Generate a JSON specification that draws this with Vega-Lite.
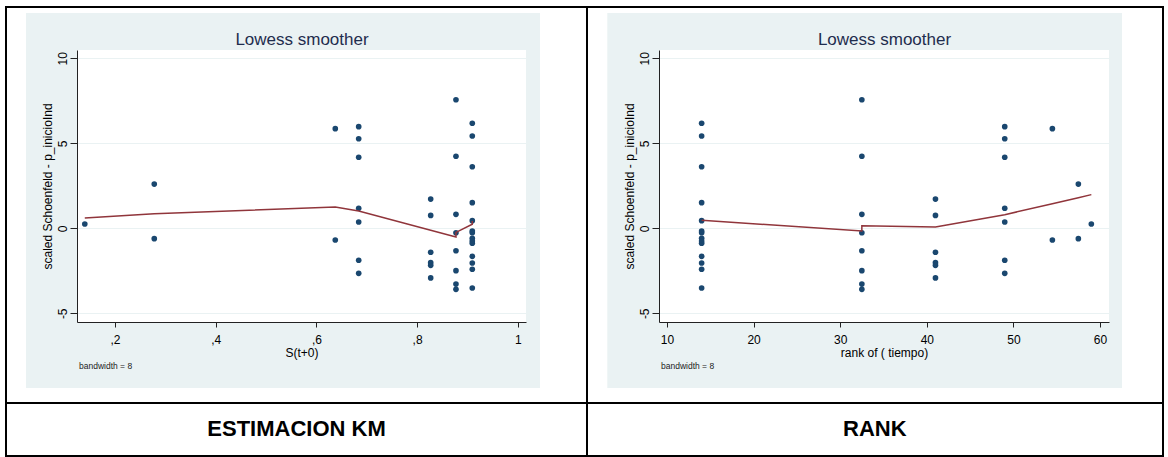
{
  "$schema": "https://vega.github.io/schema/vega-lite/v6.json",
  "padding": {"left": 5, "top": 5, "right": 0, "bottom": 0},
  "background": "white",
  "config": {"font": "Liberation Sans", "view": {"stroke": null}},
  "datasets": {
    "obs": [
      {"km": 0.14, "rank": 59, "resid": 0.25},
      {"km": 0.278, "rank": 57.5, "resid": 2.6},
      {"km": 0.278, "rank": 57.5, "resid": -0.61},
      {"km": 0.6375, "rank": 54.5, "resid": 5.86},
      {"km": 0.6375, "rank": 54.5, "resid": -0.69},
      {"km": 0.684, "rank": 49, "resid": 5.98},
      {"km": 0.684, "rank": 49, "resid": 5.27},
      {"km": 0.684, "rank": 49, "resid": 4.18},
      {"km": 0.684, "rank": 49, "resid": 1.18},
      {"km": 0.684, "rank": 49, "resid": 0.37},
      {"km": 0.684, "rank": 49, "resid": -1.88},
      {"km": 0.684, "rank": 49, "resid": -2.65},
      {"km": 0.827, "rank": 41, "resid": 1.72},
      {"km": 0.827, "rank": 41, "resid": 0.76},
      {"km": 0.827, "rank": 41, "resid": -1.41},
      {"km": 0.827, "rank": 41, "resid": -2.02},
      {"km": 0.827, "rank": 41, "resid": -2.18},
      {"km": 0.827, "rank": 41, "resid": -2.92},
      {"km": 0.8772, "rank": 32.5, "resid": 7.56},
      {"km": 0.8772, "rank": 32.5, "resid": 4.24},
      {"km": 0.8772, "rank": 32.5, "resid": 0.82},
      {"km": 0.8772, "rank": 32.5, "resid": -0.26},
      {"km": 0.8772, "rank": 32.5, "resid": -1.32},
      {"km": 0.8772, "rank": 32.5, "resid": -2.49},
      {"km": 0.8772, "rank": 32.5, "resid": -3.28},
      {"km": 0.8772, "rank": 32.5, "resid": -3.59},
      {"km": 0.9096, "rank": 14, "resid": 6.18},
      {"km": 0.9096, "rank": 14, "resid": 5.43},
      {"km": 0.9096, "rank": 14, "resid": 3.62},
      {"km": 0.9096, "rank": 14, "resid": 1.51},
      {"km": 0.9096, "rank": 14, "resid": 0.45},
      {"km": 0.9096, "rank": 14, "resid": -0.16},
      {"km": 0.9096, "rank": 14, "resid": -0.26},
      {"km": 0.9096, "rank": 14, "resid": -0.59},
      {"km": 0.9096, "rank": 14, "resid": -0.75},
      {"km": 0.9096, "rank": 14, "resid": -0.88},
      {"km": 0.9096, "rank": 14, "resid": -1.65},
      {"km": 0.9096, "rank": 14, "resid": -2.04},
      {"km": 0.9096, "rank": 14, "resid": -2.41},
      {"km": 0.9096, "rank": 14, "resid": -3.51}
    ],
    "lowess_km": [
      {"seq": 1, "km": 0.14, "fit": 0.61},
      {"seq": 2, "km": 0.278, "fit": 0.86},
      {"seq": 3, "km": 0.6375, "fit": 1.25},
      {"seq": 4, "km": 0.684, "fit": 1.02},
      {"seq": 5, "km": 0.827, "fit": -0.12},
      {"seq": 6, "km": 0.8772, "fit": -0.51},
      {"seq": 7, "km": 0.8772, "fit": -0.24},
      {"seq": 8, "km": 0.9096, "fit": 0.24},
      {"seq": 9, "km": 0.9096, "fit": 0.43}
    ],
    "lowess_rank": [
      {"seq": 1, "rank": 14, "fit": 0.47},
      {"seq": 2, "rank": 32.5, "fit": -0.16},
      {"seq": 3, "rank": 32.5, "fit": 0.15},
      {"seq": 4, "rank": 41, "fit": 0.08},
      {"seq": 5, "rank": 49, "fit": 0.8},
      {"seq": 6, "rank": 54.5, "fit": 1.45},
      {"seq": 7, "rank": 57.5, "fit": 1.8},
      {"seq": 8, "rank": 59, "fit": 1.98}
    ]
  },
  "spacing": -2,
  "hconcat": [
    {
      "width": 449,
      "height": 272,
      "view": {"stroke": null, "fill": "white"},
      "layer": [
        {
          "data": {"values": [{}]},
          "mark": {"type": "rect", "filled": false, "stroke": "black", "strokeWidth": 2},
          "encoding": {
            "x": {"datum": -0.01648, "type": "quantitative", "scale": {"domain": [0.12453, 1.01629], "nice": false, "zero": false}, "axis": null},
            "x2": {"datum": 1.13744},
            "y": {"datum": 13.018, "type": "quantitative", "scale": {"domain": [-5.512, 10.488], "nice": false, "zero": false}, "axis": null},
            "y2": {"datum": -13.394}
          }
        },
        {
          "data": {"values": [{}]},
          "mark": {"type": "rule", "color": "black", "strokeWidth": 2},
          "encoding": {
            "x": {"datum": -0.01648, "type": "quantitative", "scale": {"domain": [0.12453, 1.01629], "nice": false, "zero": false}, "axis": null},
            "x2": {"datum": 1.13744},
            "y": {"datum": -10.276, "type": "quantitative", "scale": {"domain": [-5.512, 10.488], "nice": false, "zero": false}, "axis": null}
          }
        },
        {
          "data": {"values": [{}]},
          "mark": {"type": "text", "text": "ESTIMACION KM", "fontSize": 22, "fontWeight": "bold", "color": "#000", "align": "center", "baseline": "middle"},
          "encoding": {
            "x": {"datum": 0.5605, "type": "quantitative", "scale": {"domain": [0.12453, 1.01629], "nice": false, "zero": false}, "axis": null},
            "y": {"datum": -11.835, "type": "quantitative", "scale": {"domain": [-5.512, 10.488], "nice": false, "zero": false}, "axis": null}
          }
        },
        {
          "data": {"values": [{}]},
          "mark": {"type": "rect", "fill": "#EAF2F3"},
          "encoding": {
            "x": {"datum": 0.02324, "type": "quantitative", "scale": {"domain": [0.12453, 1.01629], "nice": false, "zero": false},
              "axis": {"orient": "top", "title": "Lowess smoother", "labels": false, "ticks": false, "domain": false, "grid": false, "titleFontSize": 17, "titleFontWeight": "normal", "titleColor": "#1f2d4e", "titlePadding": 6, "titleBaseline": "alphabetic", "zindex": 1}},
            "x2": {"datum": 1.04409},
            "y": {"datum": 12.665, "type": "quantitative", "scale": {"domain": [-5.512, 10.488], "nice": false, "zero": false}, "axis": null},
            "y2": {"datum": 10.488}
          }
        },
        {
          "data": {"values": [{}]},
          "mark": {"type": "rect", "fill": "#EAF2F3"},
          "encoding": {
            "x": {"datum": 0.02324, "type": "quantitative", "scale": {"domain": [0.12453, 1.01629], "nice": false, "zero": false}, "axis": null},
            "x2": {"datum": 1.04409},
            "y": {"datum": -5.512, "type": "quantitative", "scale": {"domain": [-5.512, 10.488], "nice": false, "zero": false}, "axis": null},
            "y2": {"datum": -9.394}
          }
        },
        {
          "data": {"values": [{}]},
          "mark": {"type": "rect", "fill": "#EAF2F3"},
          "encoding": {
            "x": {"datum": 0.02324, "type": "quantitative", "scale": {"domain": [0.12453, 1.01629], "nice": false, "zero": false}, "axis": null},
            "x2": {"datum": 0.12453},
            "y": {"datum": -5.512, "type": "quantitative", "scale": {"domain": [-5.512, 10.488], "nice": false, "zero": false},
              "axis": {"orient": "right", "grid": true, "gridColor": "#EAF2F3", "gridWidth": 1, "values": [-5, 0, 5, 10], "labels": false, "ticks": false, "domain": false, "title": null, "zindex": 0}},
            "y2": {"datum": 10.488}
          }
        },
        {
          "data": {"values": [{}]},
          "mark": {"type": "rect", "fill": "#EAF2F3"},
          "encoding": {
            "x": {"datum": 1.01629, "type": "quantitative", "scale": {"domain": [0.12453, 1.01629], "nice": false, "zero": false}, "axis": null},
            "x2": {"datum": 1.04409},
            "y": {"datum": -5.512, "type": "quantitative", "scale": {"domain": [-5.512, 10.488], "nice": false, "zero": false}, "axis": null},
            "y2": {"datum": 10.488}
          }
        },
        {
          "data": {"name": "obs"},
          "mark": {"type": "circle", "size": 32, "color": "#1a476f", "opacity": 1},
          "encoding": {
            "x": {"field": "km", "type": "quantitative", "scale": {"domain": [0.12453, 1.01629], "nice": false, "zero": false},
              "axis": {"orient": "bottom", "title": "S(t+0)", "values": [0.2, 0.4, 0.6, 0.8, 1], "labelExpr": "replace(format(datum.value, '~g'), '0.', ',')", "grid": false, "tickSize": 5, "labelPadding": 7, "labelFontSize": 12, "labelColor": "#000", "labelFlush": false, "titleFontSize": 12, "titleFontWeight": "normal", "titleColor": "#000", "titlePadding": 2, "domainColor": "#222", "tickColor": "#222", "zindex": 1}},
            "y": {"field": "resid", "type": "quantitative", "scale": {"domain": [-5.512, 10.488], "nice": false, "zero": false},
              "axis": {"orient": "left", "title": "scaled Schoenfeld - p_inicioInd", "values": [-5, 0, 5, 10], "labelExpr": "replace(datum.label, '−', '-')", "grid": false, "tickSize": 7, "labelPadding": 1, "labelAngle": 270, "labelAlign": "center", "labelBaseline": "bottom", "labelFontSize": 12, "labelColor": "#000", "labelFlush": false, "titleFontSize": 12, "titleFontWeight": "normal", "titleColor": "#000", "titlePadding": 2, "domainColor": "#222", "tickColor": "#222", "zindex": 1}}
          }
        },
        {
          "data": {"name": "lowess_km"},
          "mark": {"type": "line", "color": "#90353b", "strokeWidth": 1.5},
          "encoding": {
            "x": {"field": "km", "type": "quantitative", "scale": {"domain": [0.12453, 1.01629], "nice": false, "zero": false}, "axis": null},
            "y": {"field": "fit", "type": "quantitative", "scale": {"domain": [-5.512, 10.488], "nice": false, "zero": false}, "axis": null},
            "order": {"field": "seq", "type": "quantitative"}
          }
        },
        {
          "data": {"values": [{}]},
          "mark": {"type": "text", "text": "bandwidth = 8", "align": "left", "baseline": "middle", "fontSize": 8.5, "color": "#222"},
          "encoding": {
            "x": {"datum": 0.1285, "type": "quantitative", "scale": {"domain": [0.12453, 1.01629], "nice": false, "zero": false}, "axis": null},
            "y": {"datum": -8.1, "type": "quantitative", "scale": {"domain": [-5.512, 10.488], "nice": false, "zero": false}, "axis": null}
          }
        }
      ]
    },
    {
      "width": 450,
      "height": 272,
      "view": {"stroke": null, "fill": "white"},
      "layer": [
        {
          "data": {"values": [{}]},
          "mark": {"type": "rect", "filled": false, "stroke": "black", "strokeWidth": 2},
          "encoding": {
            "x": {"datum": 0.762, "type": "quantitative", "scale": {"domain": [9.076, 61.039], "nice": false, "zero": false}, "axis": null},
            "x2": {"datum": 67.275},
            "y": {"datum": 13.018, "type": "quantitative", "scale": {"domain": [-5.512, 10.488], "nice": false, "zero": false}, "axis": null},
            "y2": {"datum": -13.394}
          }
        },
        {
          "data": {"values": [{}]},
          "mark": {"type": "rule", "color": "black", "strokeWidth": 2},
          "encoding": {
            "x": {"datum": 0.762, "type": "quantitative", "scale": {"domain": [9.076, 61.039], "nice": false, "zero": false}, "axis": null},
            "x2": {"datum": 67.275},
            "y": {"datum": -10.276, "type": "quantitative", "scale": {"domain": [-5.512, 10.488], "nice": false, "zero": false}, "axis": null}
          }
        },
        {
          "data": {"values": [{}]},
          "mark": {"type": "text", "text": "RANK", "fontSize": 22, "fontWeight": "bold", "color": "#000", "align": "center", "baseline": "middle"},
          "encoding": {
            "x": {"datum": 34.0, "type": "quantitative", "scale": {"domain": [9.076, 61.039], "nice": false, "zero": false}, "axis": null},
            "y": {"datum": -11.835, "type": "quantitative", "scale": {"domain": [-5.512, 10.488], "nice": false, "zero": false}, "axis": null}
          }
        },
        {
          "data": {"values": [{}]},
          "mark": {"type": "rect", "fill": "#EAF2F3"},
          "encoding": {
            "x": {"datum": 3.106, "type": "quantitative", "scale": {"domain": [9.076, 61.039], "nice": false, "zero": false},
              "axis": {"orient": "top", "title": "Lowess smoother", "labels": false, "ticks": false, "domain": false, "grid": false, "titleFontSize": 17, "titleFontWeight": "normal", "titleColor": "#1f2d4e", "titlePadding": 6, "titleBaseline": "alphabetic", "zindex": 1}},
            "x2": {"datum": 62.54},
            "y": {"datum": 12.665, "type": "quantitative", "scale": {"domain": [-5.512, 10.488], "nice": false, "zero": false}, "axis": null},
            "y2": {"datum": 10.488}
          }
        },
        {
          "data": {"values": [{}]},
          "mark": {"type": "rect", "fill": "#EAF2F3"},
          "encoding": {
            "x": {"datum": 3.106, "type": "quantitative", "scale": {"domain": [9.076, 61.039], "nice": false, "zero": false}, "axis": null},
            "x2": {"datum": 62.54},
            "y": {"datum": -5.512, "type": "quantitative", "scale": {"domain": [-5.512, 10.488], "nice": false, "zero": false}, "axis": null},
            "y2": {"datum": -9.394}
          }
        },
        {
          "data": {"values": [{}]},
          "mark": {"type": "rect", "fill": "#EAF2F3"},
          "encoding": {
            "x": {"datum": 3.106, "type": "quantitative", "scale": {"domain": [9.076, 61.039], "nice": false, "zero": false}, "axis": null},
            "x2": {"datum": 9.076},
            "y": {"datum": -5.512, "type": "quantitative", "scale": {"domain": [-5.512, 10.488], "nice": false, "zero": false},
              "axis": {"orient": "right", "grid": true, "gridColor": "#EAF2F3", "gridWidth": 1, "values": [-5, 0, 5, 10], "labels": false, "ticks": false, "domain": false, "title": null, "zindex": 0}},
            "y2": {"datum": 10.488}
          }
        },
        {
          "data": {"values": [{}]},
          "mark": {"type": "rect", "fill": "#EAF2F3"},
          "encoding": {
            "x": {"datum": 61.039, "type": "quantitative", "scale": {"domain": [9.076, 61.039], "nice": false, "zero": false}, "axis": null},
            "x2": {"datum": 62.54},
            "y": {"datum": -5.512, "type": "quantitative", "scale": {"domain": [-5.512, 10.488], "nice": false, "zero": false}, "axis": null},
            "y2": {"datum": 10.488}
          }
        },
        {
          "data": {"name": "obs"},
          "mark": {"type": "circle", "size": 32, "color": "#1a476f", "opacity": 1},
          "encoding": {
            "x": {"field": "rank", "type": "quantitative", "scale": {"domain": [9.076, 61.039], "nice": false, "zero": false},
              "axis": {"orient": "bottom", "title": "rank of ( tiempo)", "values": [10, 20, 30, 40, 50, 60], "grid": false, "tickSize": 5, "labelPadding": 7, "labelFontSize": 12, "labelColor": "#000", "labelFlush": false, "titleFontSize": 12, "titleFontWeight": "normal", "titleColor": "#000", "titlePadding": 2, "domainColor": "#222", "tickColor": "#222", "zindex": 1}},
            "y": {"field": "resid", "type": "quantitative", "scale": {"domain": [-5.512, 10.488], "nice": false, "zero": false},
              "axis": {"orient": "left", "title": "scaled Schoenfeld - p_inicioInd", "values": [-5, 0, 5, 10], "labelExpr": "replace(datum.label, '−', '-')", "grid": false, "tickSize": 7, "labelPadding": 1, "labelAngle": 270, "labelAlign": "center", "labelBaseline": "bottom", "labelFontSize": 12, "labelColor": "#000", "labelFlush": false, "titleFontSize": 12, "titleFontWeight": "normal", "titleColor": "#000", "titlePadding": 2, "domainColor": "#222", "tickColor": "#222", "zindex": 1}}
          }
        },
        {
          "data": {"name": "lowess_rank"},
          "mark": {"type": "line", "color": "#90353b", "strokeWidth": 1.5},
          "encoding": {
            "x": {"field": "rank", "type": "quantitative", "scale": {"domain": [9.076, 61.039], "nice": false, "zero": false}, "axis": null},
            "y": {"field": "fit", "type": "quantitative", "scale": {"domain": [-5.512, 10.488], "nice": false, "zero": false}, "axis": null},
            "order": {"field": "seq", "type": "quantitative"}
          }
        },
        {
          "data": {"values": [{}]},
          "mark": {"type": "text", "text": "bandwidth = 8", "align": "left", "baseline": "middle", "fontSize": 8.5, "color": "#222"},
          "encoding": {
            "x": {"datum": 9.307, "type": "quantitative", "scale": {"domain": [9.076, 61.039], "nice": false, "zero": false}, "axis": null},
            "y": {"datum": -8.1, "type": "quantitative", "scale": {"domain": [-5.512, 10.488], "nice": false, "zero": false}, "axis": null}
          }
        }
      ]
    }
  ]
}
